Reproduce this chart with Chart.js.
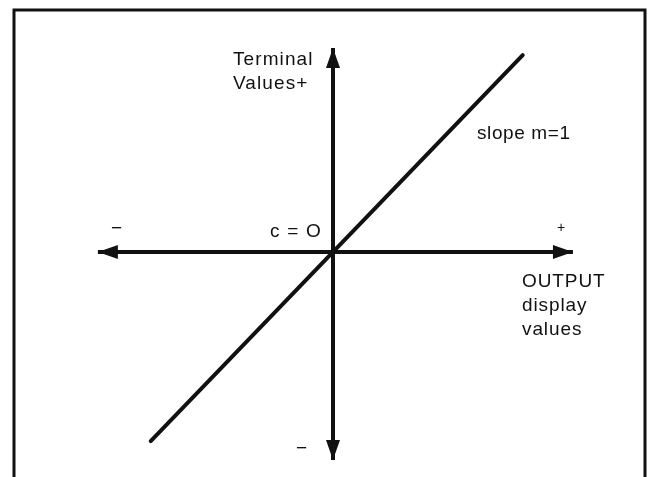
<!DOCTYPE html>
<html>
<head>
<meta charset="utf-8">
<script src="https://cdn.jsdelivr.net/npm/chart.js@4.4.0/dist/chart.umd.min.js"></script>
<style>
  html, body { margin: 0; padding: 0; background: #fff; }
  #wrap { position: relative; width: 652px; height: 477px; }
</style>
</head>
<body>
<div id="wrap"><canvas id="chart" width="652" height="477"></canvas></div>
<script>
// transfer line y = m*x + c, m = 1, c = 0
const lineX = [-0.98, 1.02];
const slope = 1;
const intercept = 0;

// axis extents (data units)
const xAxisEnds = [-1.264, 1.29];
const yAxisEnds = [-1.078, 1.057];

// view window so that the origin sits where the reference has it
const xRange = [-1.7903, 1.7151];
const yRange = [-1.1658, 1.3057];

const textLabels = [
  { text: "Terminal", x: 233, y: 65, size: 19, spacing: 1.1 },
  { text: "Values+", x: 233, y: 89, size: 19, spacing: 1.1 },
  { text: "slope m=1", x: 477, y: 139, size: 19, spacing: 0.6 },
  { text: "c = O", x: 270, y: 237, size: 19, spacing: 1.2 },
  { text: "\u2212", x: 111, y: 234, size: 19, spacing: 0 },
  { text: "+", x: 557, y: 232, size: 14, spacing: 0 },
  { text: "\u2212", x: 296, y: 454, size: 19, spacing: 0 },
  { text: "OUTPUT", x: 522, y: 287, size: 19, spacing: 0.9 },
  { text: "display", x: 522, y: 311, size: 19, spacing: 0.9 },
  { text: "values", x: 522, y: 335, size: 19, spacing: 0.9 }
];

const linePoints = lineX.map((x) => ({ x: x, y: slope * x + intercept }));

// frame and text
const decorations = {
  id: "decorations",
  beforeDraw(chart) {
    const ctx = chart.ctx;
    ctx.save();
    ctx.fillStyle = "#fff";
    ctx.fillRect(0, 0, chart.width, chart.height);
    ctx.strokeStyle = "#111";
    ctx.lineWidth = 3;
    ctx.strokeRect(14, 10, 631, 480);
    ctx.restore();
  },
  afterDraw(chart) {
    const ctx = chart.ctx;
    ctx.save();
    ctx.fillStyle = "#111";
    ctx.textBaseline = "alphabetic";
    ctx.textAlign = "left";
    textLabels.forEach((l) => {
      ctx.font = l.size + 'px "Liberation Sans", Arial, sans-serif';
      ctx.letterSpacing = l.spacing + "px";
      ctx.fillText(l.text, l.x, l.y);
    });
    ctx.restore();
  }
};

// arrowheads at both ends of the axis datasets
const arrowHeads = {
  id: "arrowHeads",
  afterDatasetsDraw(chart) {
    const ctx = chart.ctx;
    chart.data.datasets.forEach((ds, i) => {
      if (!ds.arrows) return;
      const pts = chart.getDatasetMeta(i).data;
      const a = pts[0], b = pts[pts.length - 1];
      [[b, a], [a, b]].forEach(([from, tip]) => {
        const ang = Math.atan2(tip.y - from.y, tip.x - from.x);
        const len = 20, half = 7;
        const bx = tip.x - Math.cos(ang) * len;
        const by = tip.y - Math.sin(ang) * len;
        ctx.save();
        ctx.fillStyle = "#111";
        ctx.beginPath();
        ctx.moveTo(tip.x, tip.y);
        ctx.lineTo(bx - Math.sin(ang) * half, by + Math.cos(ang) * half);
        ctx.lineTo(bx + Math.sin(ang) * half, by - Math.cos(ang) * half);
        ctx.closePath();
        ctx.fill();
        ctx.restore();
      });
    });
  }
};

const ctx = document.getElementById("chart").getContext("2d");
const chart = new Chart(ctx, {
  type: "scatter",
  data: {
    datasets: [
      {
        label: "OUTPUT display values",
        data: xAxisEnds.map((x) => ({ x: x, y: 0 })),
        showLine: true,
        borderColor: "#111",
        borderWidth: 4,
        pointRadius: 0,
        arrows: true,
        clip: false
      },
      {
        label: "Terminal Values",
        data: yAxisEnds.map((y) => ({ x: 0, y: y })),
        showLine: true,
        borderColor: "#111",
        borderWidth: 4,
        pointRadius: 0,
        arrows: true,
        clip: false
      },
      {
        label: "slope m=1",
        data: linePoints,
        showLine: true,
        borderColor: "#111",
        borderWidth: 4,
        borderCapStyle: "round",
        pointRadius: 0,
        clip: false
      }
    ]
  },
  options: {
    responsive: false,
    animation: false,
    layout: { padding: 0 },
    plugins: {
      legend: { display: false },
      tooltip: { enabled: false }
    },
    scales: {
      x: { type: "linear", min: xRange[0], max: xRange[1], display: false },
      y: { type: "linear", min: yRange[0], max: yRange[1], display: false }
    }
  },
  plugins: [decorations, arrowHeads]
});
</script>
</body>
</html>
